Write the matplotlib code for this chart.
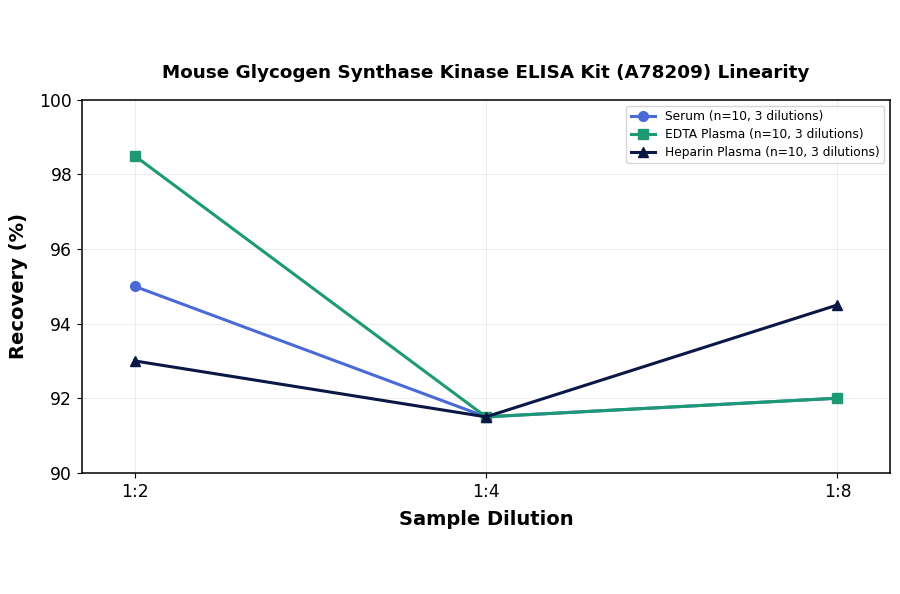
import matplotlib
matplotlib.use("Agg")
import matplotlib.pyplot as plt

dilutions = ["1:2", "1:4", "1:8"]
serum = [95.0, 91.5, 92.0]
edta_plasma = [98.5, 91.5, 92.0]
heparin_plasma = [93.0, 91.5, 94.5]

series = [
    ("Serum (n=10, 3 dilutions)", serum, "#4a6ad8", "o"),
    ("EDTA Plasma (n=10, 3 dilutions)", edta_plasma, "#1d9a74", "s"),
    ("Heparin Plasma (n=10, 3 dilutions)", heparin_plasma, "#0b1846", "^"),
]

fig = plt.figure(figsize=(9, 5.94), dpi=100)
ax = fig.add_axes([0.091, 0.204, 0.898, 0.628])

x = list(range(len(dilutions)))
for label, values, color, marker in series:
    ax.plot(x, values, color=color, marker=marker, linewidth=2.2,
            markersize=7, label=label)

ax.set_xticks(x)
ax.set_xticklabels(dilutions)
ax.set_xlim(-0.15, 2.15)
ax.set_ylim(90, 100)
ax.set_yticks([90, 92, 94, 96, 98, 100])
ax.tick_params(labelsize=12.3)
ax.grid(True, alpha=0.25, linewidth=0.6)
for spine in ax.spines.values():
    spine.set_linewidth(1.1)

ax.set_xlabel("Sample Dilution", fontsize=14, fontweight="bold", labelpad=7)
ax.set_ylabel("Recovery (%)", fontsize=14, fontweight="bold", labelpad=8)
ax.set_title("Mouse Glycogen Synthase Kinase ELISA Kit (A78209) Linearity",
             fontsize=13.2, fontweight="bold", pad=16)
ax.legend(loc="upper right", fontsize=8.8, borderpad=0.35, labelspacing=0.4)

fig.savefig("out.png", dpi=100)
